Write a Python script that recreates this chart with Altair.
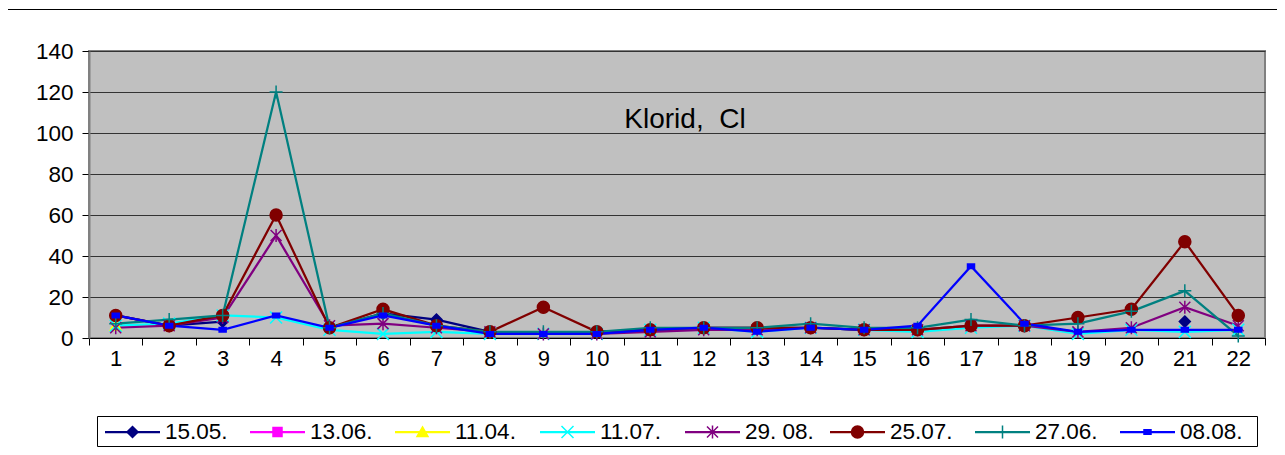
import altair as alt
import pandas as pd

# ---------------- data ----------------
categories = [str(i) for i in range(1, 23)]
series = ["15.05.", "13.06.", "11.04.", "11.07.", "29. 08.", "25.07.", "27.06.", "08.08."]

s_1505 = [11, 6, 8, None, 5, 12, 9, 3, None, 3, 4, 5, 5, 5, 4, 4, None, 6, None, None, 8, None]
s_1306 = [None] * 22
s_1104 = [6] + [None] * 21
s_1107 = [6, 7, 11, 10, 4, 2, 3, 2, 2, 2, 4, 5, 3, 5, 4, 3, 5, 6, 2, 4, 3, 4]
s_2908 = [5, 6, 10, 50, 6, 7, 5, 3, 2, 2, 3, 4, 4, 5, 4, 4, 6, 6, 3, 5, 15, 6]
s_2507 = [11, 6, 11, 60, 5, 14, 6, 3, 15, 3, 4, 5, 5, 5, 4, 4, 6, 6, 10, 14, 47, 11]
s_2706 = [7, 9, 11, 120, 5, 12, 6, 3, 3, 3, 5, 5, 5, 7, 5, 5, 9, 6, 7, 13, 23, 1]
s_0808 = [11, 6, 4, 11, 5, 11, 6, 2, 2, 2, 4, 5, 3, 5, 4, 6, 35, 7, 3, 4, 4, 4]
values = [s_1505, s_1306, s_1104, s_1107, s_2908, s_2507, s_2706, s_0808]

y_ticks = [0, 20, 40, 60, 80, 100, 120, 140]
title_text = "Klorid,\u00a0\u00a0Cl"

# ---------------- styles ----------------
colors = ["#000080", "#FF00FF", "#FFFF00", "#00FFFF", "#800080", "#800000", "#008080", "#0000FF"]
markers = [
    "M0,-1.1L1.1,0L0,1.1L-1.1,0Z",                       # diamond
    "M-0.9,-0.9H0.9V0.9H-0.9Z",                          # square
    "M0,-1L1.1,0.9H-1.1Z",                               # triangle
    "M-1.2,-1.2L1.2,1.2M-1.2,1.2L1.2,-1.2",              # x
    "M-1.1,-1.1L1.1,1.1M-1.1,1.1L1.1,-1.1M0,-1.3V1.3",   # asterisk
    "M1.2,0A1.2,1.2,0,1,1,-1.2,0A1.2,1.2,0,1,1,1.2,0Z",  # circle
    "M-1.3,0H1.3M0,-1.3V1.3",                            # plus
    "M-0.7,-0.45H0.7V0.45H-0.7Z",                        # dash
]
FONT = "Liberation Sans"

rows = []
for s, vals in zip(series, values):
    for c, v in zip(categories, vals):
        rows.append({"cat": c, "series": s, "value": v})
df = pd.DataFrame(rows)
legend_df = pd.DataFrame({"series": series, "slot": list(range(len(series)))})

color_scale = alt.Scale(domain=series, range=colors)
shape_scale = alt.Scale(domain=series, range=markers)

# ---------------- main plot ----------------
x = alt.X("cat:N", sort=categories,
          scale=alt.Scale(type="band", paddingInner=0, paddingOuter=0),
          axis=alt.Axis(title=None, labelAngle=0, tickBand="extent", grid=False,
                        labelFont=FONT, labelFontSize=22, labelColor="black",
                        tickSize=7, tickColor="black", domainColor="black",
                        labelPadding=3))
y = alt.Y("value:Q", scale=alt.Scale(domain=[0, 140], nice=False),
          axis=alt.Axis(title=None, values=y_ticks, labelFont=FONT, labelFontSize=22.5,
                        labelColor="black", tickSize=7, tickColor="black",
                        labelPadding=9, domainColor="#808080", domainWidth=2,
                        gridColor="#333333", gridWidth=1))
color = alt.Color("series:N", scale=color_scale, legend=None)
shape = alt.Shape("series:N", scale=shape_scale, legend=None)
stroke = alt.Stroke("series:N", scale=color_scale, legend=None)

base = alt.Chart(df).encode(x=x, y=y, color=color)
lines = base.mark_line(strokeWidth=2.25, invalid="break-paths-show-domains")
points = base.mark_point(filled=True, size=100, strokeWidth=1.5, opacity=1).encode(
    shape=shape, stroke=stroke)

frame = alt.Chart(pd.DataFrame({"f": [0]})).mark_rect(
    fill="transparent", stroke="black", strokeWidth=1
).encode(x=alt.value(-82.5), y=alt.value(-41.5), x2=alt.value(1300), y2=alt.value(600))

title = alt.Chart(pd.DataFrame({"t": [title_text]})).mark_text(
    font=FONT, fontSize=28, align="center", baseline="alphabetic", color="black"
).encode(x=alt.value(596), y=alt.value(77), text="t:N")

main = alt.layer(frame, lines, points, title)

# ---------------- legend (own slot scale) ----------------
lx = alt.X("slot:Q", scale=alt.Scale(domain=[0, 8], range=[8, 1168], nice=False, zero=False),
           axis=None)
LEG_Y = 381

box = alt.Chart(pd.DataFrame({"b": [0]})).mark_rect(
    fill="white", stroke="black", strokeWidth=1
).encode(x=alt.value(8.5), x2=alt.value(1168.5), y=alt.value(365.5), y2=alt.value(395.5))

leg_base = alt.Chart(legend_df).encode(x=lx, y=alt.value(LEG_Y))
leg_lines = leg_base.mark_rule(strokeWidth=2.25, xOffset=8, x2Offset=63).encode(
    x2=alt.X2("slot"), color=color)
leg_marks = leg_base.mark_point(filled=True, size=100, strokeWidth=1.5, opacity=1,
                                xOffset=35.5).encode(color=color, shape=shape, stroke=stroke)
leg_text = leg_base.mark_text(font=FONT, fontSize=22.5, align="left", baseline="middle",
                              dx=68, color="black").encode(text="series:N")

legend = alt.layer(leg_lines, leg_marks, leg_text)

chart = alt.layer(main, box, legend).resolve_scale(x="independent").properties(
    width=1176, height=287,
    padding={"left": 81, "top": 43, "right": 12, "bottom": 109},
    autosize=alt.AutoSizeParams(type="none"),
).configure_view(fill="#C0C0C0", stroke="#808080", strokeWidth=2)

chart.save("out.html", embed_options={"renderer": "svg", "actions": False})
